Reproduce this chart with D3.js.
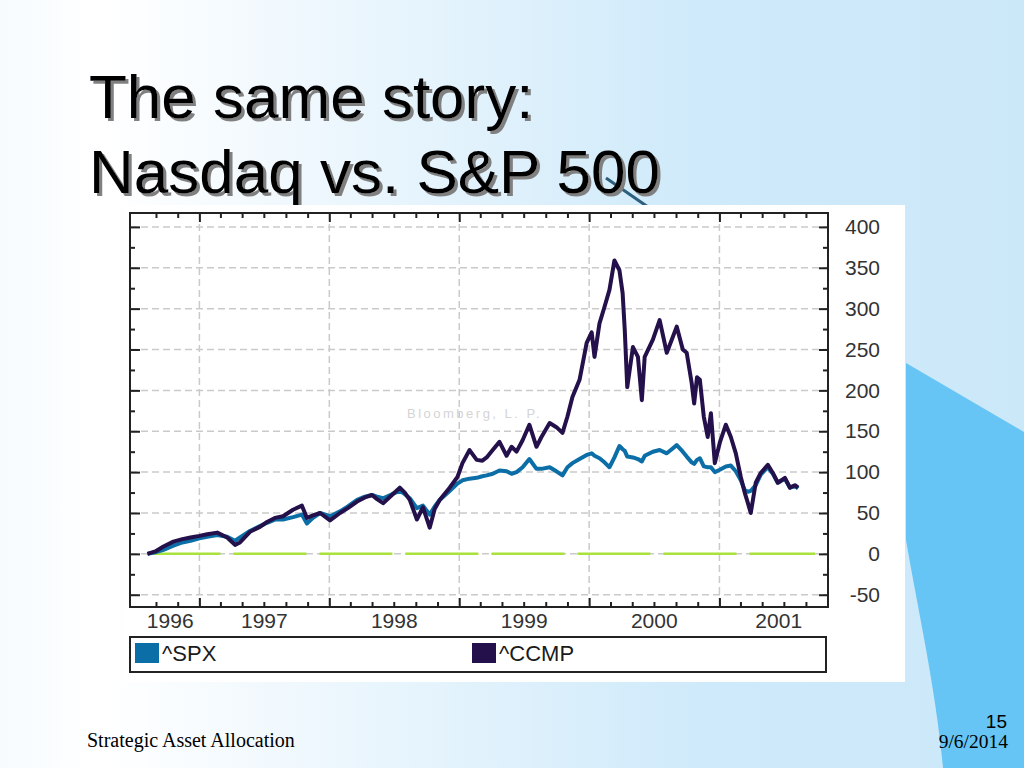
<!DOCTYPE html>
<html>
<head>
<meta charset="utf-8">
<script src="https://cdn.jsdelivr.net/npm/d3@7"></script>
<style>
    html, body { margin: 0; padding: 0; overflow: hidden; background: #fff; }
    svg { display: block; }
    .frame-axis path { display: none; }
    .frame-axis line { stroke: #222; stroke-width: 2; }
    .frame-axis text { font-family: "Liberation Sans", Arial, sans-serif; fill: #333; }
</style>
</head>
<body>
<div id="slide"></div>
<script>
// weekly-ish closes, % change since Aug 1996
const dates = [
    '1996-08-08', '1996-08-30', '1996-09-22', '1996-10-20', '1996-11-14', '1996-12-07',
    '1997-01-01', '1997-01-23', '1997-02-20', '1997-03-20', '1997-04-11', '1997-04-25', '1997-05-23', '1997-06-20',
    '1997-07-10', '1997-08-01', '1997-08-24', '1997-09-21', '1997-10-16', '1997-10-30', '1997-11-16', '1997-12-06',
    '1998-01-03', '1998-01-31', '1998-02-22', '1998-03-20', '1998-04-11', '1998-05-01', '1998-05-15', '1998-06-01',
    '1998-06-26', '1998-07-18', '1998-08-01', '1998-08-15', '1998-09-04', '1998-09-21', '1998-10-10', '1998-10-24',
    '1998-11-07', '1998-12-05', '1998-12-27',
    '1999-01-10', '1999-01-30', '1999-02-19', '1999-03-07', '1999-03-19', '1999-04-05', '1999-04-24', '1999-05-14',
    '1999-05-28', '1999-06-11', '1999-06-28', '1999-07-17', '1999-08-06', '1999-08-20', '1999-09-12', '1999-10-01',
    '1999-10-18', '1999-11-01', '1999-11-15', '1999-12-05', '1999-12-25',
    '2000-01-08', '2000-01-16', '2000-01-30', '2000-02-13', '2000-02-27', '2000-03-12', '2000-03-26', '2000-04-04',
    '2000-04-10', '2000-04-17', '2000-05-03', '2000-05-17', '2000-05-28', '2000-06-05', '2000-06-28', '2000-07-17',
    '2000-08-06', '2000-08-20', '2000-09-03', '2000-09-20', '2000-10-01', '2000-10-15', '2000-10-22', '2000-10-30',
    '2000-11-07', '2000-11-18', '2000-11-29', '2000-12-08', '2000-12-19',
    '2001-01-02', '2001-01-19', '2001-02-02', '2001-02-16', '2001-03-02', '2001-03-13', '2001-03-22', '2001-03-30',
    '2001-04-13', '2001-04-27', '2001-05-17', '2001-05-31', '2001-06-14', '2001-07-04', '2001-07-18', '2001-08-01',
    '2001-08-10'
];

const spxChange = [
    0, 2, 5, 10, 14, 16,
    19, 21, 23, 21, 16, 20, 28, 34, 38, 42, 42, 45, 48, 37, 44, 50,
    46, 52, 58, 66, 70, 72, 70, 68, 73, 77, 73, 68, 56, 59, 48, 58, 66, 77, 86,
    90, 92, 93, 95, 96, 98, 102, 101, 98, 100, 106, 116, 104, 104, 106, 101, 96, 106, 111, 116, 121,
    123, 120, 117, 112, 106, 118, 132, 128, 126, 119, 118, 116, 113, 120, 125, 127, 123, 128, 133, 125,
    119, 112, 110, 115, 117, 107, 106, 106, 100,
    103, 107, 108, 101, 90, 78, 76, 77, 84, 97, 106, 98, 87, 92, 81, 83, 80
];

const ccmpChange = [
    0, 3, 9, 15, 18, 20,
    22, 24, 26, 20, 11, 14, 27, 33, 39, 44, 46, 54, 59, 44, 47, 50,
    41, 50, 56, 64, 69, 72, 67, 62, 72, 81, 75, 66, 42, 57, 32, 55, 66, 81, 94,
    111, 127, 115, 114, 118, 127, 137, 120, 131, 125, 139, 158, 131, 143, 160, 155, 148, 168, 192, 213, 258,
    271, 241, 282, 302, 323, 359, 347, 319, 274, 204, 253, 241, 188, 241, 262, 286, 246, 262, 278, 250,
    246, 209, 184, 216, 213, 168, 143, 172, 111,
    136, 158, 143, 123, 94, 75, 62, 50, 87, 99, 109, 99, 87, 93, 81, 84, 81
];

const seriesNames = ['^SPX', '^CCMP'];
const seriesColors = ['#0b6ea6', '#24104a'];
const yearLabels = ['1996', '1997', '1998', '1999', '2000', '2001'];
const yTickValues = [-50, 0, 50, 100, 150, 200, 250, 300, 350, 400];
const titleLines = ['The same story:', 'Nasdaq vs. S&P 500'];

const W = 1024;
const H = 768;
const frame = { left: 130, top: 213, right: 828, bottom: 607 };
const parse = d3.timeParse('%Y-%m-%d');

const svg = d3.select('#slide').append('svg')
    .attr('width', W)
    .attr('height', H);

// slide background
const defs = svg.append('defs');
const grad = defs.append('linearGradient')
    .attr('id', 'bg')
    .attr('x1', 0).attr('x2', 1).attr('y1', 0).attr('y2', 0);
grad.append('stop').attr('offset', 0).attr('stop-color', '#f6fbfe');
grad.append('stop').attr('offset', 0.1).attr('stop-color', '#ffffff');
grad.append('stop').attr('offset', 0.68).attr('stop-color', '#cfeafa');
grad.append('stop').attr('offset', 1).attr('stop-color', '#cbe8f9');

defs.append('filter')
    .attr('id', 'shadow')
    .attr('x', '-5%').attr('y', '-5%')
    .attr('width', '110%').attr('height', '120%')
    .append('feDropShadow')
    .attr('dx', 3).attr('dy', 3)
    .attr('stdDeviation', 0.4)
    .attr('flood-color', '#808080')
    .attr('flood-opacity', 1);

svg.append('rect')
    .attr('width', W)
    .attr('height', H)
    .attr('fill', 'url(#bg)');

svg.append('path')
    .attr('d', 'M906,363 L1024,432 L1024,768 L943,768 C936,690 918,610 906,540 Z')
    .attr('fill', '#66c5f5');

svg.append('line')
    .attr('x1', 606).attr('y1', 178)
    .attr('x2', 648).attr('y2', 207)
    .attr('stroke', '#2b5f7d')
    .attr('stroke-width', 3);

// title
svg.append('g')
    .attr('font-family', '"Liberation Sans", Arial, sans-serif')
    .attr('font-size', 62)
    .attr('filter', 'url(#shadow)')
    .selectAll('text')
    .data(titleLines)
    .enter()
    .append('text')
    .attr('x', 89)
    .attr('y', (d, i) => 118 + i * 75)
    .attr('fill', '#000')
    .text(d => d);

// footer
svg.append('text')
    .attr('x', 87).attr('y', 747)
    .attr('font-family', '"Liberation Serif", "Times New Roman", serif')
    .attr('font-size', 20)
    .text('Strategic Asset Allocation');
svg.append('text')
    .attr('x', 1007).attr('y', 728)
    .attr('text-anchor', 'end')
    .attr('font-family', '"Liberation Sans Narrow", "Liberation Sans", Arial, sans-serif')
    .attr('font-size', 19)
    .text('15');
svg.append('text')
    .attr('x', 1008).attr('y', 748)
    .attr('text-anchor', 'end')
    .attr('font-family', '"Liberation Serif", "Times New Roman", serif')
    .attr('font-size', 19.5)
    .text('9/6/2014');

// chart picture
const chart = svg.append('g');
chart.append('rect')
    .attr('x', 126).attr('y', 205)
    .attr('width', 779).attr('height', 477)
    .attr('fill', '#fff');

const xScale = d3.scaleTime()
    .domain([new Date(1996, 5, 20), new Date(2001, 10, 2)])
    .range([frame.left, frame.right]);
const yScale = d3.scaleLinear()
    .domain([-65, 417])
    .range([frame.bottom, frame.top]);

const yearStarts = yearLabels.slice(1).map(y => new Date(+y, 0, 1));
const monthTicks = d3.timeMonth.every(2)
    .range(xScale.domain()[0], xScale.domain()[1])
    .filter(d => d.getMonth() !== 0)
    .filter(d => xScale(d) > frame.left + 8 && xScale(d) < frame.right - 6);
const minorY = d3.range(-50, 417, 25).filter(v => v % 50 !== 0);

// grid
chart.append('g')
    .selectAll('line')
    .data(yearStarts)
    .enter()
    .append('line')
    .attr('x1', d => xScale(d)).attr('x2', d => xScale(d))
    .attr('y1', frame.top).attr('y2', frame.bottom)
    .attr('stroke', '#cacaca')
    .attr('stroke-width', 1.5)
    .attr('stroke-dasharray', '7,4');
chart.append('g')
    .selectAll('line')
    .data(yTickValues)
    .enter()
    .append('line')
    .attr('x1', frame.left).attr('x2', frame.right)
    .attr('y1', d => yScale(d)).attr('y2', d => yScale(d))
    .attr('stroke', '#cacaca')
    .attr('stroke-width', 1.5)
    .attr('stroke-dasharray', '7,4');

// zero line
chart.append('line')
    .attr('x1', xScale(parse(dates[0])))
    .attr('x2', frame.right - 13)
    .attr('y1', yScale(0)).attr('y2', yScale(0))
    .attr('stroke', '#a9e23c')
    .attr('stroke-width', 2.5)
    .attr('stroke-dasharray', '73,13');

chart.append('text')
    .attr('x', 407).attr('y', 418)
    .attr('font-family', '"Liberation Sans", Arial, sans-serif')
    .attr('font-size', 13)
    .attr('letter-spacing', 2.5)
    .attr('fill', '#d4d4d4')
    .text('Bloomberg, L. P.');

// series
const line = d3.line()
    .x(d => xScale(d.date))
    .y(d => yScale(d.value));
[spxChange, ccmpChange].forEach((values, i) => {
    const points = dates.map((d, j) => ({ date: parse(d), value: values[j] }));
    chart.append('path')
        .datum(points)
        .attr('fill', 'none')
        .attr('stroke', seriesColors[i])
        .attr('stroke-width', 4)
        .attr('stroke-linejoin', 'round')
        .attr('d', line);
});

// ticks on all four sides of the frame, pointing inwards
const tickAxis = (axis, values, size, transform) => {
    chart.append('g')
        .attr('class', 'frame-axis')
        .attr('transform', transform)
        .call(axis.tickValues(values).tickSizeInner(size).tickSizeOuter(0).tickFormat(''));
};
tickAxis(d3.axisBottom(xScale), monthTicks, -5, `translate(0,${frame.bottom})`);
tickAxis(d3.axisBottom(xScale), yearStarts, -9, `translate(0,${frame.bottom})`);
tickAxis(d3.axisTop(xScale), monthTicks, -5, `translate(0,${frame.top})`);
tickAxis(d3.axisTop(xScale), yearStarts, -9, `translate(0,${frame.top})`);
tickAxis(d3.axisLeft(yScale), minorY, -5, `translate(${frame.left},0)`);
tickAxis(d3.axisLeft(yScale), yTickValues, -10, `translate(${frame.left},0)`);
tickAxis(d3.axisRight(yScale), minorY, -5, `translate(${frame.right},0)`);
tickAxis(d3.axisRight(yScale), yTickValues, -9, `translate(${frame.right},0)`);

// right-hand value labels (plain hyphen for negatives)
chart.append('g')
    .attr('class', 'frame-axis')
    .attr('transform', `translate(${frame.right},0)`)
    .call(d3.axisRight(yScale).tickValues(yTickValues).tickSize(0).tickPadding(0)
        .tickFormat(d => String(d)))
    .call(g => g.selectAll('text')
        .attr('x', 52)
        .attr('text-anchor', 'end')
        .attr('font-size', 21));

// year labels centred in the visible part of each year
chart.append('g')
    .selectAll('text')
    .data(yearLabels)
    .enter()
    .append('text')
    .attr('x', d => {
        const a = Math.max(xScale(new Date(+d, 0, 1)), frame.left + 11);
        const b = Math.min(xScale(new Date(+d + 1, 0, 1)), frame.right + 10);
        return (a + b) / 2;
    })
    .attr('y', 628)
    .attr('text-anchor', 'middle')
    .attr('font-family', '"Liberation Sans", Arial, sans-serif')
    .attr('font-size', 21)
    .attr('fill', '#333')
    .text(d => d);

chart.append('rect')
    .attr('x', frame.left).attr('y', frame.top)
    .attr('width', frame.right - frame.left)
    .attr('height', frame.bottom - frame.top)
    .attr('fill', 'none')
    .attr('stroke', '#222')
    .attr('stroke-width', 2);

// legend
const legend = chart.append('g');
legend.append('rect')
    .attr('x', 130).attr('y', 637)
    .attr('width', 696).attr('height', 35)
    .attr('fill', '#fff')
    .attr('stroke', '#222')
    .attr('stroke-width', 2);
const legendX = [135, 472];
seriesNames.forEach((name, i) => {
    legend.append('rect')
        .attr('x', legendX[i]).attr('y', 643)
        .attr('width', 24).attr('height', 20)
        .attr('fill', seriesColors[i]);
    legend.append('text')
        .attr('x', legendX[i] + 27).attr('y', 661)
        .attr('font-family', '"Liberation Sans", Arial, sans-serif')
        .attr('font-size', 22)
        .attr('fill', '#1a1a1a')
        .text(name);
});
</script>
</body>
</html>
